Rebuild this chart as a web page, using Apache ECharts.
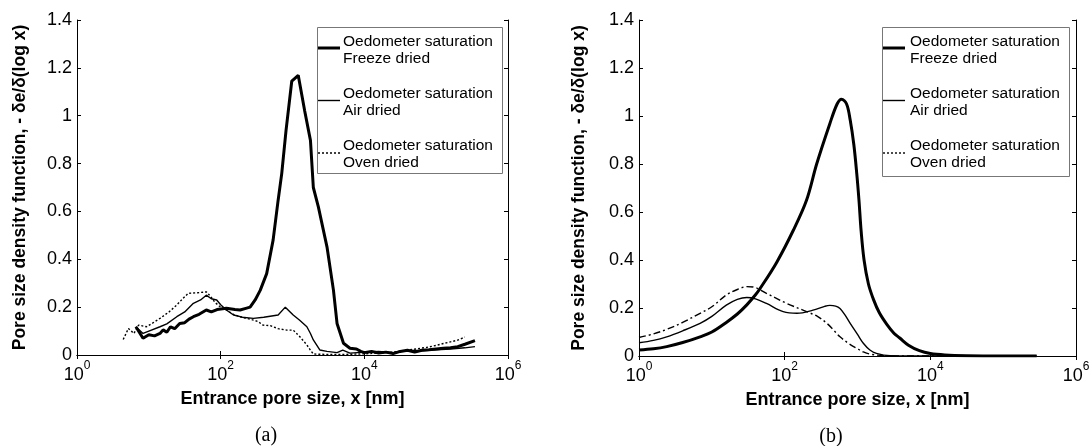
<!DOCTYPE html>
<html><head><meta charset="utf-8">
<script src="https://cdn.jsdelivr.net/npm/echarts@6/dist/echarts.min.js"></script>
<style>html,body{margin:0;padding:0;background:#fff}#c{width:1091px;height:446px}</style>
</head><body><div id="c"></div>
<script>
// ---------- data (x in nm, y = -de/d(log x)) ----------
const legendNames = ['Oedometer saturation\nFreeze dried', 'Oedometer saturation\nAir dried', 'Oedometer saturation\nOven dried'];
const xTitle = 'Entrance pore size, x [nm]';
const yTitle = 'Pore size density function, - \u03b4e/\u03b4(log x)';
const captions = ['(a)', '(b)'];

// (a) measured
const aFreezeX = [6.6,8.3,10,12,14.3,15.8,17.8,20,22.9,26.9,31.6,36.3,41.7,50.1,63.1,74.1,89.1,120,158,186,224,257,302,355,437,537,631,708,813,977,1202,1479,1778,1950,2291,3020,3715,4169,5129,6310,7762,8913,10000,12590,15850,19950,25120,31620,39810,50120,63100,79430,100000,125900,158500,199500,251200,346700];
const aFreezeY = [0.118,0.07,0.085,0.08,0.09,0.105,0.095,0.118,0.11,0.132,0.135,0.15,0.16,0.17,0.188,0.18,0.19,0.195,0.19,0.188,0.195,0.2,0.23,0.27,0.34,0.48,0.647,0.758,0.939,1.145,1.169,1.02,0.897,0.70,0.619,0.452,0.271,0.132,0.049,0.028,0.025,0.015,0.01,0.015,0.008,0.012,0.006,0.015,0.02,0.012,0.02,0.022,0.025,0.028,0.03,0.035,0.045,0.06];
const aAirX = [6.6,8.3,10,14.3,17.8,24.5,31.6,41.7,52.5,63.1,74.1,88.1,100,120,151,200,285,398,631,794,1023,1259,1585,1778,1950,2399,3020,4169,5012,6310,7943,10000,15850,25120,39810,63100,100000,158500,251200,346700];
const aAirY = [0.118,0.09,0.1,0.118,0.13,0.16,0.18,0.216,0.23,0.25,0.235,0.23,0.21,0.188,0.167,0.158,0.153,0.158,0.167,0.2,0.167,0.145,0.118,0.09,0.063,0.021,0.015,0.01,0.02,0.008,0.01,0.012,0.015,0.01,0.02,0.018,0.022,0.025,0.03,0.035];
const aOvenX = [4.4,5.2,6.2,7.2,9.3,11.5,14.3,19.1,24.5,29.5,35.5,47.9,63.1,72.4,83.2,100,120,151,186,285,331,389,501,631,832,1023,1259,1585,1778,1950,2512,3981,6310,10000,15850,25120,39810,74130,100000,125900,158500,199500,251200];
const aOvenY = [0.065,0.111,0.09,0.125,0.118,0.135,0.153,0.18,0.209,0.235,0.258,0.26,0.264,0.245,0.22,0.2,0.188,0.17,0.16,0.146,0.14,0.125,0.122,0.11,0.104,0.104,0.077,0.042,0.02,0.004,0.003,0.002,0.003,0.005,0.008,0.012,0.02,0.032,0.04,0.048,0.055,0.062,0.075];

// (b) fitted
const bFreezeX = [1,1.58,2.4,3.98,6.9,10,15.8,22.4,30.2,39.8,45.7,77.6,132,200,275,417,525,603,708,794,891,977,1047,1122,1230,1413,1660,1995,2512,3162,3802,5012,7079,10000,15850,31620,100000,288400];
const bFreezeY = [0.025,0.03,0.039,0.056,0.08,0.1,0.14,0.175,0.213,0.255,0.28,0.39,0.525,0.65,0.8,0.968,1.05,1.07,1.05,0.983,0.88,0.76,0.65,0.52,0.40,0.30,0.235,0.18,0.133,0.095,0.075,0.045,0.022,0.01,0.004,0.001,0,0];
const bAirX = [1,1.58,2.4,3.98,6.9,10,15.8,22.4,30.2,39.8,56.2,95.5,148,245,355,417,501,575,676,794,1000,1202,1479,1820,2818,5012,288400];
const bAirY = [0.055,0.065,0.08,0.105,0.136,0.165,0.212,0.236,0.244,0.238,0.219,0.185,0.178,0.191,0.207,0.211,0.208,0.198,0.17,0.136,0.09,0.053,0.025,0.011,0.001,0,0];
const bOvenX = [1,1.58,2.4,3.98,6.9,10,15.8,22.4,30.2,39.8,56.2,107,200,282,380,479,575,759,977,1202,1479,2512,5012,288400];
const bOvenY = [0.077,0.092,0.111,0.14,0.178,0.205,0.254,0.277,0.289,0.285,0.261,0.219,0.185,0.165,0.136,0.105,0.08,0.052,0.032,0.017,0.008,0.001,0,0];

const zip = (xs, ys) => xs.map((x, i) => [x, ys[i]]);

// ---------- chart ----------
const chart = echarts.init(document.getElementById('c'), null, {renderer: 'canvas'});
const FONT = 'Liberation Sans, Arial, sans-serif';
const grids = [
  {left: 77, top: 20, width: 431, height: 335},
  {left: 639, top: 20, width: 437, height: 336}
];
const xAxes = [], yAxes = [];
grids.forEach((g, i) => {
  xAxes.push({
    gridIndex: i, type: 'log', logBase: 10, min: 1, max: 1e6, interval: 2, position: 'bottom',
    name: xTitle, nameLocation: 'middle', nameGap: 35,
    nameTextStyle: {fontFamily: FONT, fontWeight: 'bold', fontSize: 18, color: '#000'},
    axisLine: {lineStyle: {color: '#000', width: 1}},
    axisTick: {inside: true, length: 4, lineStyle: {color: '#000'}},
    splitLine: {show: false}, minorTick: {show: false},
    axisLabel: {
      margin: 5, color: '#000', fontFamily: FONT,
      formatter: v => '{b|10}{s|' + Math.round(Math.log10(v)) + '}',
      rich: {
        b: {fontSize: 18, fontFamily: FONT, color: '#000', verticalAlign: 'bottom', lineHeight: 24},
        s: {fontSize: 12, fontFamily: FONT, color: '#000', verticalAlign: 'top', lineHeight: 12}
      }
    }
  });
  xAxes.push({
    gridIndex: i, type: 'log', logBase: 10, min: 1, max: 1e6, interval: 2, position: 'top',
    axisLine: {lineStyle: {color: '#000', width: 1}},
    axisTick: {inside: true, length: 4, lineStyle: {color: '#000'}},
    axisLabel: {show: false}, splitLine: {show: false}
  });
  yAxes.push({
    gridIndex: i, type: 'value', min: 0, max: 1.4, interval: 0.2, position: 'left',
    name: yTitle, nameLocation: 'middle', nameGap: i === 0 ? 48 : 51,
    nameTextStyle: {fontFamily: FONT, fontWeight: 'bold', fontSize: 17.5, color: '#000'},
    axisLine: {show: true, lineStyle: {color: '#000', width: 1}},
    axisTick: {show: true, inside: true, length: 4, lineStyle: {color: '#000'}},
    splitLine: {show: false},
    axisLabel: {margin: 5, color: '#000', fontFamily: FONT, fontSize: 18}
  });
  yAxes.push({
    gridIndex: i, type: 'value', min: 0, max: 1.4, interval: 0.2, position: 'right',
    axisLine: {show: true, lineStyle: {color: '#000', width: 1}},
    axisTick: {show: true, inside: true, length: 4, lineStyle: {color: '#000'}},
    splitLine: {show: false}, axisLabel: {show: false}
  });
});

function mkSeries(name, data, gi, width, type, smooth) {
  return {
    name: name, type: 'line', data: data, xAxisIndex: gi * 2, yAxisIndex: gi * 2,
    showSymbol: false, symbol: 'none', smooth: smooth, animation: false,
    lineStyle: {color: '#000', width: width, type: type}, z: width > 2 ? 3 : 4
  };
}
const series = [
  mkSeries(legendNames[0], zip(aFreezeX, aFreezeY), 0, 3, 'solid', false),
  mkSeries(legendNames[1], zip(aAirX, aAirY), 0, 1.4, 'solid', false),
  mkSeries(legendNames[2], zip(aOvenX, aOvenY), 0, 1.4, [2, 2], false),
  mkSeries(legendNames[0], zip(bFreezeX, bFreezeY), 1, 3, 'solid', 0.35),
  mkSeries(legendNames[1], zip(bAirX, bAirY), 1, 1.4, 'solid', 0.35),
  mkSeries(legendNames[2], zip(bOvenX, bOvenY), 1, 1.4, [7, 3, 2, 3], 0.35)
];

// legend boxes drawn as graphics
const legendBoxes = [
  {x: 317, y: 27, w: 185, h: 146, sx: 318, tx: 343},
  {x: 882, y: 27, w: 187, h: 149, sx: 883, tx: 910}
];
const entryStyles = [{w: 3, d: null}, {w: 1.4, d: null}, {w: 1.4, d: [2, 2]}];
const graphic = [];
legendBoxes.forEach(b => {
  graphic.push({type: 'rect', shape: {x: b.x + 0.5, y: b.y + 0.5, width: b.w, height: b.h},
    style: {fill: '#fff', stroke: '#777', lineWidth: 1}, z: 100});
  legendNames.forEach((n, k) => {
    const ly = b.y + 21 + k * 52.5;
    graphic.push({type: 'line', shape: {x1: b.sx, y1: ly, x2: b.sx + 22, y2: ly},
      style: {stroke: '#000', lineWidth: entryStyles[k].w, lineDash: entryStyles[k].d}, z: 101});
    graphic.push({type: 'text', x: b.tx, y: b.y + 6.5 + k * 52, z: 101,
      style: {text: n, fontFamily: FONT, fontSize: 15.5, lineHeight: 17, fill: '#000', textVerticalAlign: 'top'}});
  });
});
graphic.push({type: 'text', x: 266, y: 436, style: {text: captions[0], fontFamily: 'Liberation Serif, serif', fontSize: 20, fill: '#000', textAlign: 'center', textVerticalAlign: 'middle'}});
graphic.push({type: 'text', x: 831, y: 437, style: {text: captions[1], fontFamily: 'Liberation Serif, serif', fontSize: 20, fill: '#000', textAlign: 'center', textVerticalAlign: 'middle'}});

chart.setOption({
  animation: false,
  backgroundColor: '#fff',
  grid: grids.map(g => Object.assign({containLabel: false, outerBoundsMode: 'none'}, g)),
  xAxis: xAxes, yAxis: yAxes, series: series, graphic: graphic
});
</script></body></html>
